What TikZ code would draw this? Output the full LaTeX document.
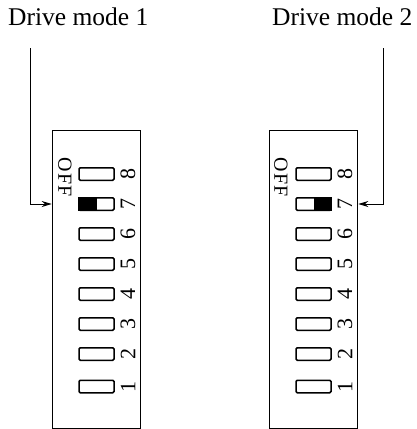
\documentclass[tikz,border=0pt]{standalone}
\usepackage{fontspec}
\setmainfont{Liberation Serif}
\usetikzlibrary{arrows.meta, positioning}

\tikzset{
    modelabel/.style={font=\fontsize{25.5}{28}\selectfont, inner sep=0pt},
    dipbox/.style={draw, line width=1.6pt, inner sep=0pt, minimum width=88pt, minimum height=298pt},
    switch/.style={draw, line width=1.5pt, rounded corners=1.2pt, inner sep=0pt, minimum width=35pt, minimum height=12.5pt},
    digit/.style={font=\fontsize{22}{24}\selectfont, rotate=90, inner sep=0pt},
    offlabel/.style={font=\fontsize{20}{22}\selectfont\addfontfeature{LetterSpace=6}, rotate=-90, inner sep=0pt},
    lead/.style={line width=0.9pt, ->},
}

\begin{document}
\begin{tikzpicture}[x=1pt, y=-1pt, >={Stealth[length=10pt, width=6pt]}]
    \useasboundingbox (0,0) rectangle (417,429);

    % Titles
    \node[modelabel, anchor=base west] (mode1) at (8,25) {Drive mode 1};
    \node[modelabel, anchor=base west] (mode2) at (272,25) {Drive mode 2};

    % DIP switch housings
    \node[dipbox] (dip1) at (96.5,279.5) {};
    \node[dipbox] (dip2) at (313.5,279.5) {};

    % OFF labels
    \node[offlabel] (off1) at (65,177) {OFF};
    \node[offlabel] (off2) at (281,177) {OFF};

    % Switches 1..8 with their numbers
    \foreach \b/\cx in {1/96.5, 2/313.5} {
        \foreach \n/\y in {8/174, 7/204, 6/234, 5/264, 4/294, 3/324, 2/354, 1/386.5} {
            \node[switch] (sw\b-\n) at (\cx,\y) {};
            \node[digit] (num\b-\n) at (\cx+31.5,\y) {\n};
        }
    }

    % Set levers of switch 7
    \fill (sw1-7.north west) rectangle (sw1-7.south);
    \fill (sw2-7.north) rectangle (sw2-7.south east);

    % Leaders to switch 7
    \coordinate (top1) at (30,48);
    \coordinate (top2) at (383,48);
    \draw[lead] (top1) |- (dip1.west |- sw1-7);
    \draw[lead] (top2) |- (dip2.east |- sw2-7);
\end{tikzpicture}
\end{document}
